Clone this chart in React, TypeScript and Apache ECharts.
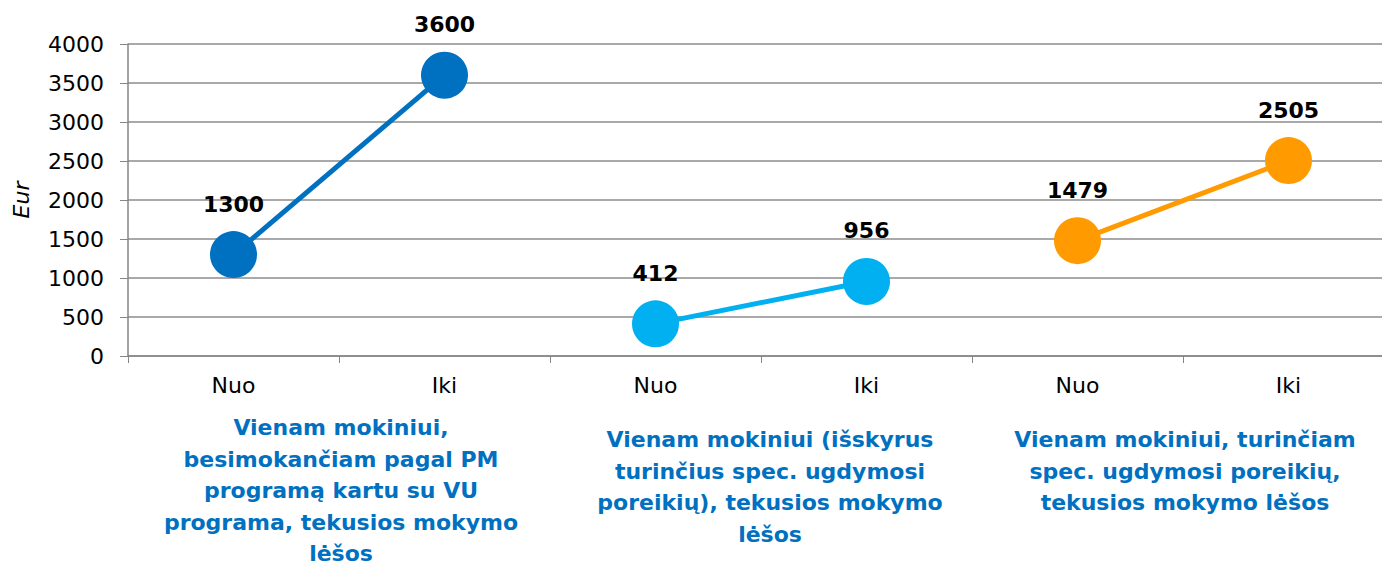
import React, { useEffect, useRef } from "react";
import * as echarts from "echarts";

const categories = ["Nuo", "Iki", "Nuo", "Iki", "Nuo", "Iki"];
const seriesA = [1300, 3600, null, null, null, null];
const seriesB = [null, null, 412, 956, null, null];
const seriesC = [null, null, null, null, 1479, 2505];
const seriesColors = ["#0070C0", "#00B0F0", "#FF9B00"];
const yTicks = { min: 0, max: 4000, interval: 500 };
const groupLabels = [
  "Vienam mokiniui,\nbesimokančiam pagal PM\nprogramą kartu su VU\nprograma, tekusios mokymo\nlėšos",
  "Vienam mokiniui (išskyrus\nturinčius spec. ugdymosi\nporeikių), tekusios mokymo\nlėšos",
  "Vienam mokiniui, turinčiam\nspec. ugdymosi poreikių,\ntekusios mokymo lėšos",
];
const groupLabelPos = [
  { x: 341, y: 412 },
  { x: 770, y: 424 },
  { x: 1185, y: 424 },
];

const FONT = "DejaVu Sans";

export default function App() {
  const ref = useRef<HTMLDivElement>(null);
  useEffect(() => {
    if (!ref.current) return;
    const chart = echarts.init(ref.current, null, { renderer: "svg" });
    const mk = (data: (number | null)[], color: string) => ({
      type: "line",
      data,
      symbol: "circle",
      symbolSize: 47,
      lineStyle: { color, width: 5 },
      itemStyle: { color },
      label: {
        show: true,
        position: "top",
        distance: 16,
        fontFamily: FONT,
        fontWeight: "bold",
        fontSize: 22,
        color: "#000",
      },
    });
    chart.setOption({
      animation: false,
      backgroundColor: "#fff",
      grid: { left: 128, top: 44, bottom: 210, width: 1266 },
      xAxis: {
        type: "category",
        data: categories,
        boundaryGap: true,
        axisLine: { lineStyle: { color: "#868686", width: 1.5 } },
        axisTick: { show: true, length: 7, lineStyle: { color: "#868686" } },
        axisLabel: { fontFamily: FONT, fontSize: 22, color: "#000", margin: 18 },
      },
      yAxis: {
        type: "value",
        min: yTicks.min,
        max: yTicks.max,
        interval: yTicks.interval,
        name: "Eur",
        nameLocation: "middle",
        nameGap: 96,
        nameTextStyle: { fontFamily: FONT, fontSize: 22, fontStyle: "italic", color: "#000" },
        axisLine: { show: true, lineStyle: { color: "#868686", width: 1.5 } },
        axisTick: { show: true, length: 8, lineStyle: { color: "#868686" } },
        axisLabel: {
          fontFamily: FONT,
          fontSize: 22,
          color: "#000",
          margin: 24,
          formatter: (v: number) => String(v),
        },
        splitLine: { show: true, lineStyle: { color: "#8c8c8c", width: 1.5 } },
      },
      series: [mk(seriesA, seriesColors[0]), mk(seriesB, seriesColors[1]), mk(seriesC, seriesColors[2])],
      graphic: groupLabels.map((t, i) => ({
        type: "text",
        x: groupLabelPos[i].x,
        y: groupLabelPos[i].y,
        style: {
          text: t,
          fontFamily: FONT,
          fontWeight: "bold",
          fontSize: 22,
          lineHeight: 31.5,
          fill: "#0070C0",
          textAlign: "center",
          textVerticalAlign: "top",
        },
      })),
    });
    return () => chart.dispose();
  }, []);
  return (
    <div
      style={{ position: "fixed", left: 0, top: 0, width: 1382, height: 566, overflow: "hidden" }}
    >
      <div ref={ref} style={{ width: 1400, height: 566 }} />
    </div>
  );
}
